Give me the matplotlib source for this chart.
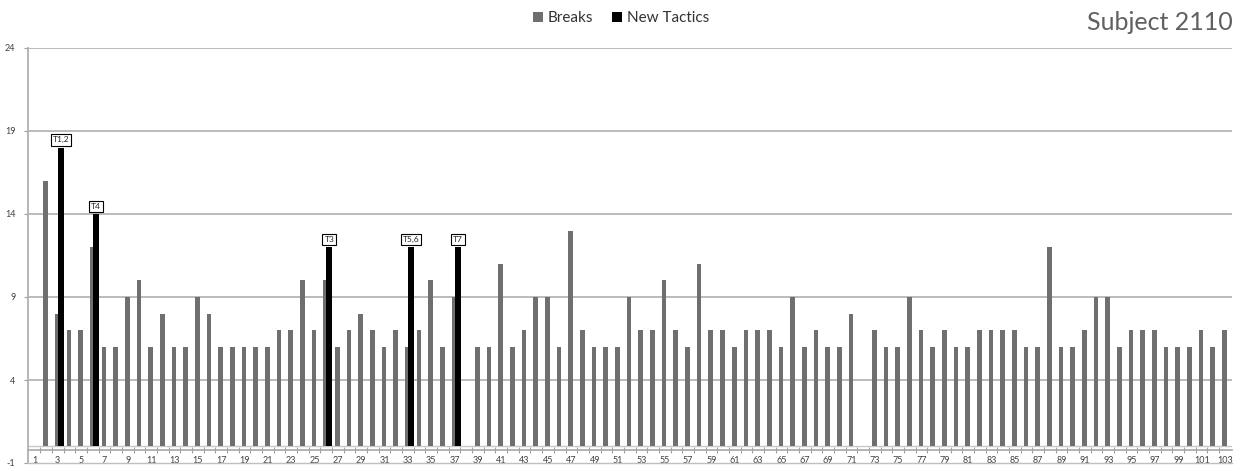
import matplotlib
matplotlib.use("Agg")
import matplotlib.pyplot as plt
import numpy as np

categories = list(range(1, 104))
breaks = [0, 16, 8, 7, 7, 12, 6, 6, 9, 10,
          6, 8, 6, 6, 9, 8, 6, 6, 6, 6,
          6, 7, 7, 10, 7, 10, 6, 7, 8, 7,
          6, 7, 6, 7, 10, 6, 9, 0, 6, 6,
          11, 6, 7, 9, 9, 6, 13, 7, 6, 6,
          6, 9, 7, 7, 10, 7, 6, 11, 7, 7,
          6, 7, 7, 7, 6, 9, 6, 7, 6, 6,
          8, 0, 7, 6, 6, 9, 7, 6, 7, 6,
          6, 7, 7, 7, 7, 6, 6, 12, 6, 6,
          7, 9, 9, 6, 7, 7, 7, 6, 6, 6,
          7, 6, 7]
tactic_cats = [3, 6, 26, 33, 37]
tactic_vals = [18, 14, 12, 12, 12]
tactic_labels = ["T1,2", "T4", "T3", "T5,6", "T7"]
yticks = [-1, 4, 9, 14, 19, 24]

W, H = 1245, 471
fig = plt.figure(figsize=(W / 100, H / 100), dpi=100)
left, right = 28 / W, 1232 / W
bottom, top = 1 - 463 / H, 1 - 48 / H
ax = fig.add_axes([left, bottom, right - left, top - bottom])

x = np.array(categories, dtype=float)
ax.bar(x - 0.05, breaks, width=0.4, color="#6f6f6f", linewidth=0,
       zorder=3, label="Breaks")
ax.bar(np.array(tactic_cats) + 0.27, tactic_vals, width=0.5, color="black",
       linewidth=0, zorder=4, label="New Tactics")

for c, v, t in zip(tactic_cats, tactic_vals, tactic_labels):
    ax.annotate(t, xy=(c + 0.27, v), xytext=(0, 3), textcoords="offset points",
                ha="center", va="bottom", fontsize=6, color="#222222",
                family="Lato",
                bbox=dict(boxstyle="square,pad=0.25", fc="white", ec="black", lw=0.8),
                zorder=6)

ax.set_xlim(0.45, 103.6)
ax.set_ylim(-1, 24)
ax.set_yticks(yticks)
ax.set_yticklabels([str(v) for v in yticks], fontsize=6.5, color="#404040", family="Lato")
ax.tick_params(axis="y", length=3, width=0.8, color="#a0a0a0", pad=6)
for v in yticks[1:]:
    ax.axhline(v, color="#b5b5b5", lw=1.3, zorder=1)
ax.axhline(0, color="#c8c8c8", lw=1.0, zorder=1)

for s in ["top", "right"]:
    ax.spines[s].set_visible(False)
ax.spines["left"].set_color("#b0b0b0")
ax.spines["left"].set_linewidth(1.3)
ax.spines["bottom"].set_color("#c0c0c0")
ax.spines["bottom"].set_linewidth(1.0)
ax.set_xticks([])

sec = ax.secondary_xaxis((-0.22 + 1) / 25)
sec.set_xticks(np.arange(1.5, 103.5, 1.0), minor=False)
sec.set_xticklabels([])
sec.set_xticks(categories[::2], minor=True)
sec.set_xticklabels([str(c) for c in categories[::2]], minor=True,
                    fontsize=6.5, color="#404040", family="Lato")
sec.tick_params(axis="x", which="major", length=4, width=0.8, color="#a0a0a0",
                direction="inout")
sec.tick_params(axis="x", which="minor", length=0, pad=4)
sec.spines["bottom"].set_color("#a8a8a8")
sec.spines["bottom"].set_linewidth(1.2)

leg = fig.legend(loc="center", bbox_to_anchor=(621 / W, 1 - 18 / H), ncol=2,
                 frameon=False, prop={"family": "Lato", "size": 11},
                 handlelength=0.65, handleheight=0.65, handletextpad=0.35,
                 columnspacing=1.2)
for t in leg.get_texts():
    t.set_color("#333333")

fig.text(1233 / W, 1 - 22 / H, "Subject 2110", ha="right", va="center",
         fontsize=18, color="#606060", family="Lato")

fig.savefig("out.png", dpi=100)
